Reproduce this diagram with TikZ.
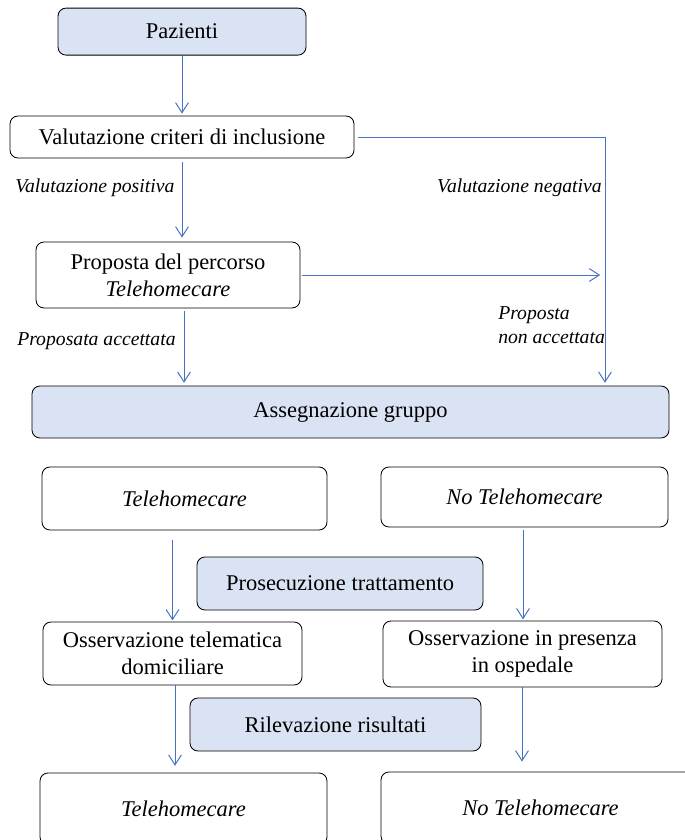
\documentclass[tikz,border=0pt]{standalone}
\usepackage{fontspec}
\setmainfont{Liberation Serif}
\usetikzlibrary{arrows.meta}
\definecolor{phase fill}{HTML}{DAE3F3}
\definecolor{flow line}{HTML}{4472C4}
\tikzset{
  box/.style={draw=black, line width=0.6pt, rounded corners=0.2cm, align=center, inner sep=0pt,
    font=\fontsize{16}{19}\selectfont},
  phase/.style={box, fill=phase fill},
  flow/.style={draw=flow line, line width=0.7pt, -{Straight Barb[length=0.25cm,width=0.32cm]}},
  note/.style={inner sep=0pt, font=\fontsize{14}{17}\selectfont\itshape}
}

\begin{document}
\begin{tikzpicture}
    \useasboundingbox (0,0) rectangle (17.125,-21);
    % upper part
    \node[phase, minimum width=6.2cm, minimum height=1.175cm] (pazienti) at (4.55,-0.79) {Pazienti};
    \node[box, minimum width=8.6cm, minimum height=1.05cm] (criteri) at (4.55,-3.425) {Valutazione criteri di inclusione};
    \node[box, minimum width=6.6cm, minimum height=1.65cm] (proposta) at (4.2,-6.875) {Proposta del percorso\\\textit{Telehomecare}};
    \node[phase, minimum width=15.925cm, minimum height=1.3cm] (assegnazione) at (8.7625,-10.3) {Assegnazione gruppo};
    \coordinate (negcorner) at (15.125,-3.425);
    \coordinate (acccol) at (4.6,-6.875);

    \draw[flow, shorten >=0.05cm] (pazienti) -- (criteri);
    \draw[flow, shorten <=0.1cm, shorten >=0.1cm] (criteri.south) -- (criteri.south |- proposta.north);
    \draw[flow, shorten <=0.1cm, shorten >=0.07cm] (criteri.east) -- (negcorner) -- (negcorner |- assegnazione.north);
    \draw[flow, shorten <=0.05cm, shorten >=0.12cm] (proposta.east) -- (proposta.east -| negcorner);
    \draw[flow, shorten <=0.07cm, shorten >=0.07cm] (acccol |- proposta.south) -- (acccol |- assegnazione.north);

    \node[note, anchor=west] (positiva) at (0.375,-4.7) {Valutazione positiva};
    \node[note, anchor=east] (negativa) at (15.05,-4.7) {Valutazione negativa};
    \node[note, anchor=west, align=left] (nonacc) at (12.45,-8.13) {Proposta\\non accettata};
    \node[note, anchor=west] (accettata) at (0.425,-8.525) {Proposata accettata};

    % lower part
    \node[box, minimum width=7.125cm, minimum height=1.575cm] (tele) at (4.6125,-12.4625) {\itshape Telehomecare};
    \node[box, minimum width=7.175cm, minimum height=1.5cm] (notele) at (13.1125,-12.425) {\itshape No Telehomecare};
    \node[phase, minimum width=7.15cm, minimum height=1.325cm] (prosecuzione) at (8.5,-14.5875) {Prosecuzione trattamento};
    \node[box, minimum width=6.475cm, minimum height=1.575cm] (domicilio) at (4.3125,-16.3375) {Osservazione telematica\\domiciliare};
    \node[box, minimum width=6.975cm, minimum height=1.65cm] (ospedale) at (13.0625,-16.35) {Osservazione in presenza\\in ospedale};
    \node[phase, minimum width=7.275cm, minimum height=1.325cm] (rilevazione) at (8.3875,-18.1125) {Rilevazione risultati};
    \node[box, minimum width=7.175cm, minimum height=1.8cm] (teleend) at (4.5875,-20.225) {\itshape Telehomecare};
    \node[box, minimum width=7.975cm, minimum height=1.8cm] (noteleend) at (13.5125,-20.2) {\itshape No Telehomecare};

    \draw[flow, shorten <=0.25cm, shorten >=0.03cm] (domicilio.north |- tele.south) -- (domicilio.north);
    \draw[flow, shorten <=0.07cm, shorten >=0.03cm] (notele.south -| 13.075,0) -- (ospedale.north -| 13.075,0);
    \draw[flow, shorten >=0.17cm] (domicilio.south -| 4.375,0) -- (teleend.north -| 4.375,0);
    \draw[flow, shorten >=0.25cm] (ospedale.south -| 13.05,0) -- (noteleend.north -| 13.05,0);
\end{tikzpicture}
\end{document}
